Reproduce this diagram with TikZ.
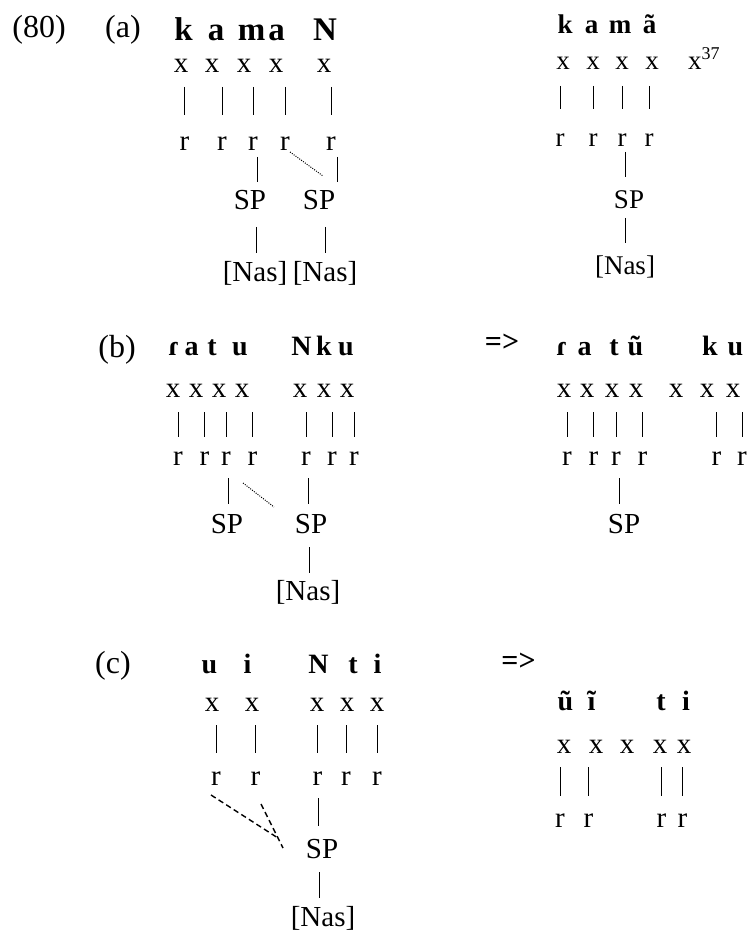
\documentclass[tikz,border=0pt]{standalone}
\usepackage{fontspec}
\setmainfont{Liberation Serif}
\begin{document}
\begin{tikzpicture}[x=1pt,y=-1pt,
  every node/.style={inner sep=0pt,outer sep=0pt,anchor=base},
  lab/.style={font=\fontsize{32}{38}\selectfont},
  nt/.style={font=\fontsize{29}{34}\selectfont},
  ntr/.style={font=\fontsize{27}{32}\selectfont},
  bA/.style={font=\fontsize{33}{38}\selectfont\bfseries},
  bR/.style={font=\fontsize{27}{32}\selectfont\bfseries},
  bB/.style={font=\fontsize{28}{33}\selectfont\bfseries},
  arr/.style={font=\fontsize{30}{34}\selectfont\bfseries},
  ln/.style={line width=1pt},
  dotl/.style={line width=1pt,dash pattern=on 1pt off 1.3pt},
  dshl/.style={line width=1.4pt,dash pattern=on 5.5pt off 3.5pt},
  vlA/.style={ln,shorten <=14pt,shorten >=22.7pt},
  vlR/.style={ln,shorten <=16pt,shorten >=25.6pt},
  vlB/.style={ln,shorten <=15pt,shorten >=14.7pt},
  vlC/.style={ln,shorten <=14pt,shorten >=18.7pt},
  vlD/.style={ln,shorten <=14pt,shorten >=17.7pt}]
\fill[white] (0,0) rectangle (749,933);
\useasboundingbox (0,0) rectangle (749,933);

% ---------- (a) left ----------
\node[lab] (n80) at (39,38) {(80)};
\node[lab] (la) at (123,38) {(a)};
\foreach \n/\x/\t in {1/183.5/k,2/216/a,3/251.5/m,4/276.5/a,5/325/N}
  \node[bA] (ka\n) at (\x,41) {\t};
\foreach \n/\x in {1/181,2/212,3/244,4/276,5/324}
  \node[nt] (xa\n) at (\x,73) {x};
\foreach \n/\x in {1/184.5,2/222,3/253,4/285,5/331}
  \node[nt] (ra\n) at (\x,151) {r};
\foreach \n in {1,...,5}
  \draw[vlA] (xa\n.south -| ra\n) -- (ra\n.north);
\node[nt] (spa1) at (250,210) {SP};
\node[nt] (spa2) at (319,210) {SP};
\node[nt] (nsa1) at (255,281) {[Nas]};
\node[nt] (nsa2) at (325,281) {[Nas]};
\draw[ln] ([xshift=4pt,yshift=-6pt]ra3.base) -- ([xshift=7pt,yshift=28pt]spa1.base);
\draw[dotl] ([xshift=5pt,yshift=-1pt]ra4.base) -- ([xshift=4pt,yshift=34pt]spa2.base);
\draw[ln] ([xshift=6pt,yshift=-6pt]ra5.base) -- ([xshift=18pt,yshift=28pt]spa2.base);
\draw[ln] ([xshift=6pt,yshift=-17pt]spa1.base) -- ([xshift=1pt,yshift=28pt]nsa1.base);
\draw[ln] ([xshift=6pt,yshift=-17pt]spa2.base) -- ([xshift=0pt,yshift=28pt]nsa2.base);

% ---------- (a) right ----------
\foreach \n/\x/\t in {1/565/k,2/591.5/a,3/620/m,4/649.5/ã}
  \node[bR] (kb\n) at (\x,34) {\t};
\foreach \n/\x in {1/563,2/593,3/622,4/652}
  \node[ntr] (xb\n) at (\x,70) {x};
\node[ntr,anchor=base west] (xb5) at (688,70) {x\raisebox{10pt}{\fontsize{18}{18}\selectfont 37}};
\foreach \n/\x in {1/560,2/593,3/622,4/649}
  \node[ntr] (rb\n) at (\x,147) {r};
\foreach \n in {1,...,4}
  \draw[vlR] (xb\n.south -| rb\n) -- (rb\n.north);
\node[ntr] (spb) at (629,208) {SP};
\node[ntr] (nsb) at (625,274) {[Nas]};
\draw[ln] ([xshift=3pt,yshift=-5pt]rb3.base) -- ([xshift=-4pt,yshift=31pt]spb.base);
\draw[ln] ([xshift=-4pt,yshift=-10pt]spb.base) -- ([xshift=0pt,yshift=31pt]nsb.base);

% ---------- (b) left ----------
\node[lab] (lb) at (117,357) {(b)};
\foreach \n/\x/\t in {1/174/ɾ,2/191.5/a,3/212/t,4/240/u,5/301.5/N,6/324/k,7/346/u}
  \node[bB] (kc\n) at (\x,355) {\t};
\foreach \n/\x in {1/173,2/196,3/219,4/242,5/300,6/324,7/347}
  \node[nt] (xc\n) at (\x,397) {x};
\foreach \n/\x in {1/178,2/204.5,3/226,4/252.5,5/306,6/332,7/354}
  \node[nt] (rc\n) at (\x,465) {r};
\foreach \n in {1,...,7}
  \draw[vlB] (xc\n.south -| rc\n) -- (rc\n.north);
\node[nt] (spc1) at (227,533) {SP};
\node[nt] (spc2) at (311,533) {SP};
\node[nt] (nsc) at (308,600) {[Nas]};
\draw[ln] ([xshift=2pt,yshift=-13pt]rc3.base) -- ([xshift=1pt,yshift=29pt]spc1.base);
\draw[dotl] ([xshift=-9.5pt,yshift=-18pt]rc4.base) -- ([xshift=-37pt,yshift=26pt]spc2.base);
\draw[ln] ([xshift=2pt,yshift=-13pt]rc5.base) -- ([xshift=-3pt,yshift=29pt]spc2.base);
\draw[ln] ([xshift=-2pt,yshift=-14pt]spc2.base) -- ([xshift=1pt,yshift=27pt]nsc.base);

% ---------- (b) right ----------
\node[arr] (arb) at (502,351) {=>};
\foreach \n/\x/\t in {1/562/ɾ,2/584.5/a,3/614/t,4/635.5/ũ,5/710/k,6/735.5/u}
  \node[bB] (kd\n) at (\x,355) {\t};
\foreach \n/\x in {1/564,2/587,3/612,4/636,5/676,6/707,7/733}
  \node[nt] (xd\n) at (\x,397) {x};
\foreach \n/\x in {1/567,2/593.5,3/616,4/642.5,5/716.5,6/742}
  \node[nt] (rd\n) at (\x,465) {r};
\foreach \a/\b in {1/1,2/2,3/3,4/4,6/5,7/6}
  \draw[vlB] (xd\a.south -| rd\b) -- (rd\b.north);
\node[nt] (spd) at (624,533) {SP};
\draw[ln] ([xshift=3pt,yshift=-13pt]rd3.base) -- ([xshift=-5pt,yshift=29pt]spd.base);

% ---------- (c) left ----------
\node[lab] (lc) at (113,673) {(c)};
\foreach \n/\x/\t in {1/209.5/u,2/247.5/i,3/318.5/N,4/353/t,5/377.5/i}
  \node[bB] (ke\n) at (\x,673) {\t};
\foreach \n/\x in {1/212,2/252,3/317,4/347,5/377}
  \node[nt] (xe\n) at (\x,711) {x};
\foreach \n/\x in {1/216,2/255.5,3/317.5,4/346,5/377}
  \node[nt] (re\n) at (\x,785) {r};
\foreach \n in {1,...,5}
  \draw[vlC] (xe\n.south -| re\n) -- (re\n.north);
\node[nt] (spe) at (322,858) {SP};
\node[nt] (nse) at (323,926) {[Nas]};
\draw[dshl] ([xshift=-5pt,yshift=-10pt]re1.base) -- ([xshift=-44pt,yshift=20pt]spe.base);
\draw[dshl] ([xshift=5.5pt,yshift=-19pt]re2.base) -- ([xshift=-39pt,yshift=10pt]spe.base);
\draw[ln] ([xshift=0.5pt,yshift=-13pt]re3.base) -- ([xshift=-4pt,yshift=32pt]spe.base);
\draw[ln] ([xshift=-3pt,yshift=-14pt]spe.base) -- ([xshift=-4pt,yshift=28pt]nse.base);

% ---------- (c) right ----------
\node[arr] (arc) at (518.5,670) {=>};
\foreach \n/\x/\t in {1/565.5/ũ,2/591.5/ĩ,3/661/t,4/686/i}
  \node[bB] (kf\n) at (\x,710) {\t};
\foreach \n/\x in {1/564,2/596,3/627,4/660,5/684}
  \node[nt] (xf\n) at (\x,753) {x};
\foreach \n/\x in {1/560,2/588.5,3/661.5,4/682.5}
  \node[nt] (rf\n) at (\x,827) {r};
\foreach \a/\b in {1/1,2/2,4/3,5/4}
  \draw[vlD] (xf\a.south -| rf\b) -- (rf\b.north);
\end{tikzpicture}
\end{document}
